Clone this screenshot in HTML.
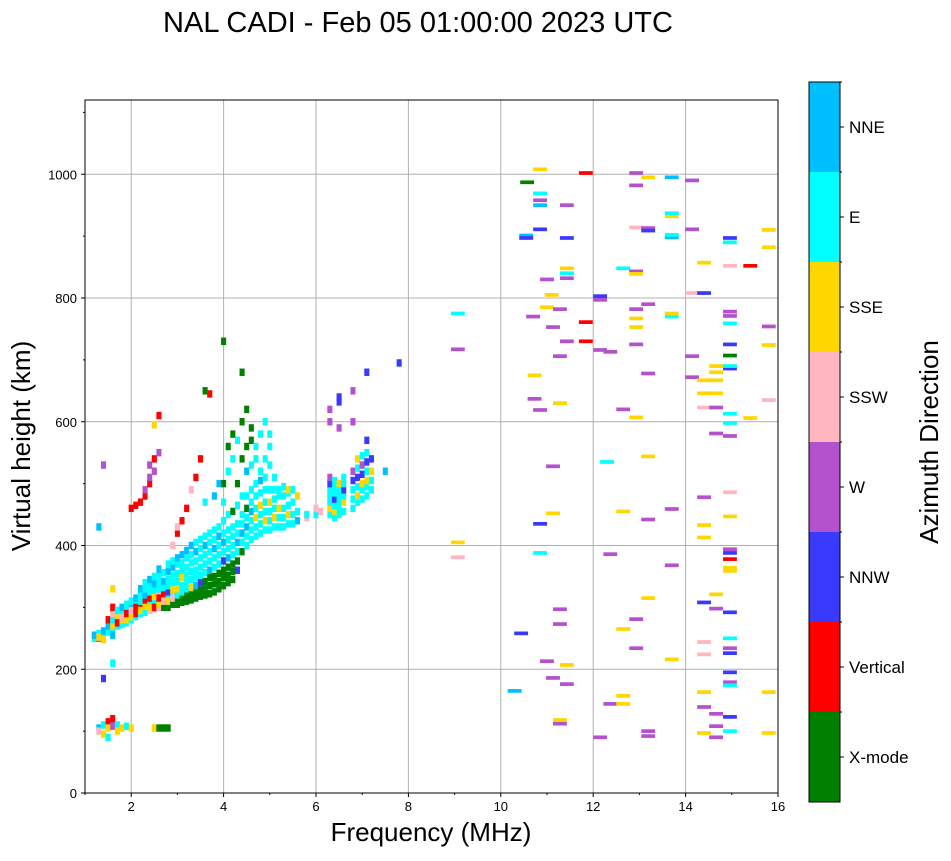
<!DOCTYPE html>
<html><head><meta charset="utf-8"><style>
body{margin:0;background:#fff;font-family:"Liberation Sans",sans-serif;}
svg text{font-family:"Liberation Sans",sans-serif;}
</style></head><body>
<svg id="chart" width="951" height="856" xmlns="http://www.w3.org/2000/svg">
<text x="418" y="32" font-size="29" text-anchor="middle">NAL CADI - Feb 05 01:00:00 2023 UTC</text>
<g id="grid"></g>
<g id="cells"></g>
<rect x="85" y="100" width="693" height="693" fill="none" stroke="#000" stroke-width="1"/>
<g id="axes"></g>
<text x="431" y="841" font-size="26" text-anchor="middle">Frequency (MHz)</text>
<text transform="translate(30,446) rotate(-90)" font-size="26" text-anchor="middle">Virtual height (km)</text>
<g id="cbar"></g>
<text transform="translate(938,442) rotate(-90)" font-size="26" text-anchor="middle">Azimuth Direction</text>
</svg>
<script>
const dirLabels=["X-mode","Vertical","NNW","W","SSW","SSE","E","NNE"];
const dirColors=["#008000","#ff0000","#3a3aff","#b452cd","#ffb6c1","#ffd700","#00ffff","#00bfff"];
const xTicks=[2,4,6,8,10,12,14,16];
const yTicks=[0,200,400,600,800,1000];
const freqs=[];const heights=[];const dirs=[];
const lowCols=[
[1.2,"250c 255s"],[1.3,"250o 258c 252y 105s 100p 430s"],[1.4,"255c 262s 248y 110c 95y 530o 185b"],
[1.5,"265y 260c 270s 280r 115r 105y 90c"],[1.6,"262c 270y 280c 290p 300r 255s 120r 108o 330y 210c"],
[1.7,"270c 278s 285y 295c 275r 110c 100y"],[1.8,"272c 280y 290c 300s 283p 105y"],
[1.9,"275c 285s 295c 305c 280y 290r 108c"],[2.0,"280c 290c 300s 310c 285y 295p 460r 105y"],
[2.1,"285c 295y 305c 315s 290r 300r 465r"],[2.2,"290c 300r 310c 320c 330s 295y 470r"],
[2.3,"292c 302y 312r 320s 330c 340c 480r 490o"],[2.4,"295p 305c 315r 325c 335c 345s 300y 500r 510o 530o"],
[2.5,"298p 308c 318y 328c 338s 350c 300r 520o 540r 595y 105y"],[2.6,"300p 310c 320p 330c 340c 352c 362s 305y 315r 550o 610r 105g"],
[2.7,"303c 313y 322r 332c 342s 356c 300g 310p 105g"],[2.8,"305g 315c 325b 335c 345c 358s 370c 300g 310y 105g"],
[2.9,"308g 318c 328y 340c 352c 365s 375c 305g 315p 400p"],[3.0,"305g 312g 320c 330y 342c 355c 370c 380s 420r 430p"],
[3.1,"308g 316g 325c 335c 348y 360c 372c 385s 440r"],[3.2,"310g 320g 330c 340c 352c 365c 380c 392s 460r"],
[3.3,"312g 322g 332y 345c 358c 372c 385c 400s 490p"],[3.4,"315g 325g 335s 348c 360c 375c 390s 405c 510r"],
[3.5,"318g 328g 340b 352c 365c 380c 395c 410c 540r"],[3.6,"320g 330g 342g 356c 370c 385c 400s 415c 470c 650g"],
[3.7,"322g 335g 348g 360s 375c 390c 405c 420c 645r"],[3.8,"325g 338g 350g 365c 380c 395s 410c 425c 480s"],
[3.9,"330g 342g 355g 370c 385c 400c 415s 430c 500s"],[4.0,"335g 348g 360g 375b 390c 405s 420c 440c 470c 500g 730g"],
[4.1,"340g 352g 365g 380s 395c 410c 425c 450c 520c 560g"],[4.2,"345g 358g 370g 385c 400c 415c 430c 455g 540c 580g"],
[4.3,"360b 375g 390c 405s 420c 435c 465c 500g 570c"],[4.4,"390g 405c 420s 435c 450c 480c 540g 600g 680g"],
[4.5,"400c 415c 430s 445c 460g 480c 520s 560g 620g"],[4.6,"410c 425c 440c 455s 470c 490c 530c 570g 590g"],
[4.7,"415c 430c 445y 460c 480c 500c 540c 560c"],[4.8,"420c 435c 450c 465y 485c 505s 520c 580c"],
[4.9,"425c 440y 455c 470c 490c 510c 540c 600c"],[5.0,"425c 440c 455c 470y 490c 530c 560c 580c"],
[5.1,"430c 445y 460c 475c 490c 510c"],[5.2,"430c 445c 460y 480c 490c"],[5.3,"430c 445c 460c 480c 495c"],
[5.4,"435c 450y 465c 485c 490y"],[5.5,"435c 450c 470c 490c"],[5.6,"440s 455c 480y"],[5.8,"445p 450c"],
[6.0,"450c 460p"],[6.1,"455p"],[6.3,"450c 460y 470c 480c 490c 500b 510o 600o 620o"],
[6.4,"445c 455y 465c 475b 485c 495c 505c"],[6.5,"450c 460c 470c 480c 490c 500y 640b 632b 590o"],
[6.6,"455c 470y 480c 490b 500c 510c"],[6.8,"460c 475c 490c 505b 520o 600o 650o"],
[6.9,"470c 480y 495c 510b 525c 540y"],[7.0,"475c 490c 500y 515b 530o 545c"],
[7.1,"480c 495c 505y 520c 535b 550c 570b 680b"],[7.2,"490c 505c 520y 540b"],[7.5,"520s"],[7.8,"695b"]];
const codeMap={g:0,r:1,b:2,o:3,p:4,y:5,c:6,s:7};
lowCols.forEach(([f,s])=>s.split(" ").forEach(t=>{freqs.push(f);heights.push(+t.slice(0,-1));dirs.push(codeMap[t.slice(-1)]);}));
const hiFreqs=[10.57,10.85,10.85,10.85,10.85,10.55,10.55,10.85,11.84,11.43,11.43,11.43,11.43,11.43,11.0,11.1,11.0,11.28,10.7,11.13,11.84,11.84,12.15,12.15,11.43,11.28,10.73,10.73,10.85,11.28,12.15,12.37,12.93,12.93,13.19,12.93,13.19,13.19,13.7,13.7,13.7,13.7,13.7,14.14,14.14,12.65,12.93,12.93,12.93,12.93,12.93,13.19,12.93,13.19,12.65,12.93,12.3,13.19,13.7,13.7,14.14,14.4,14.4,14.14,14.14,14.4,14.66,14.66,14.66,14.4,14.66,14.4,14.66,14.96,14.96,14.96,15.4,14.96,14.96,14.96,14.96,14.96,14.96,14.96,14.96,14.96,14.96,15.4,15.8,15.8,15.8,15.8,15.8,14.66,14.4,14.4,14.4,14.96,14.96,14.96,14.96,14.96,14.96,14.96,14.66,14.4,13.7,13.7,13.19,12.65,12.37,10.85,10.85,11.13,11.13,9.07,9.07,9.07,9.07,13.19,12.93,11.28,11.28,10.44,12.65,12.93,14.96,14.66,14.4,14.96,14.96,14.96,14.4,13.7,14.96,14.96,14.96,15.8,10.3,11.0,11.13,11.43,11.43,11.28,11.28,12.37,12.65,12.65,12.15,13.19,13.19,14.4,14.4,14.66,14.66,14.4,14.66,14.96,14.96,15.8];
const hiHeights=[987,1008,969,958,950,901,897,911,1002,950,897,848,832,840,830,805,785,782,770,753,761,730,803,797,730,706,675,637,619,630,716,713,982,1002,995,914,913,909,995,932,937,898,902,990,911,848,843,839,782,767,753,790,725,678,620,607,535,544,770,775,808,808,857,706,672,667,680,690,667,646,646,623,623,897,890,852,852,778,771,759,725,707,686,690,613,598,577,606,910,882,754,724,635,581,478,433,413,486,447,394,388,378,359,364,321,308,368,459,442,455,386,388,435,452,528,775,717,405,381,315,281,297,273,258,265,234,292,298,244,250,234,226,224,216,195,179,174,163,165,213,186,207,176,118,112,144,157,144,90,100,92,163,139,128,108,97,90,100,123,97];
const hiDirs=[0,5,6,3,7,7,2,2,1,3,2,5,3,6,3,5,5,3,3,3,1,1,2,3,3,3,5,3,3,5,3,3,3,3,5,4,3,2,7,5,6,7,6,3,3,6,3,5,3,5,5,3,3,3,3,5,6,5,6,5,4,2,5,3,3,5,5,5,5,5,5,4,3,2,6,4,1,3,3,6,2,0,2,6,6,6,3,5,5,5,3,5,4,3,3,5,5,4,5,3,2,1,5,5,5,2,3,3,3,5,3,6,2,5,3,6,3,5,4,5,3,3,3,2,5,3,2,3,4,6,3,2,4,5,2,3,6,5,7,3,3,5,3,5,3,3,5,5,3,3,3,5,3,3,3,5,3,6,2,5];
hiFreqs.forEach((f,i)=>{freqs.push(f);heights.push(hiHeights[i]);dirs.push(hiDirs[i]);});

const NS="http://www.w3.org/2000/svg";
const X0=85,X1=778,Y0=793,Y1=100,FMIN=1,FMAX=16,HMAX=1120;
const xs=f=>X0+(f-FMIN)*(X1-X0)/(FMAX-FMIN);
const ys=h=>Y0-h*(Y0-Y1)/HMAX;
function mk(tag,attrs,parent){const e=document.createElementNS(NS,tag);for(const k in attrs)e.setAttribute(k,attrs[k]);parent.appendChild(e);return e;}
const grid=document.getElementById('grid'),axes=document.getElementById('axes'),cells=document.getElementById('cells'),cbar=document.getElementById('cbar');
xTicks.forEach(t=>{const x=xs(t);
 if(t<FMAX){const l=mk('line',{x1:x,x2:x,y1:Y1,y2:Y0,stroke:'#b0b0b0','stroke-width':1},grid);}
 const tk=mk('line',{x1:x,x2:x,y1:Y0,y2:Y0+4,stroke:'#000'},axes);
 const tx=mk('text',{x:x,y:Y0+18,'font-size':13,'text-anchor':'middle'},axes);tx.textContent=t;});
for(let f=1;f<=16;f+=1){if(xTicks.includes(f))continue;const x=xs(f);const m=mk('line',{x1:x,x2:x,y1:Y0,y2:Y0+2,stroke:'#000'},axes);}
yTicks.forEach(t=>{const y=ys(t);
 if(t>0){const l=mk('line',{x1:X0,x2:X1,y1:y,y2:y,stroke:'#b0b0b0','stroke-width':1},grid);}
 const tk=mk('line',{x1:X0-4,x2:X0,y1:y,y2:y,stroke:'#000'},axes);
 const tx=mk('text',{x:X0-8,y:y+5,'font-size':13,'text-anchor':'end'},axes);tx.textContent=t;});
for(let h=100;h<=1100;h+=200){const y=ys(h);const m=mk('line',{x1:X0-2,x2:X0,y1:y,y2:y,stroke:'#000'},axes);}
freqs.forEach((f,i)=>{const hi=f>=8.5;const w=(hi?0.3:0.11)*(X1-X0)/15;const hh=(hi?6:12)*(Y0-Y1)/HMAX;
 const r=mk('rect',{x:xs(f)-w/2,y:ys(heights[i])-hh/2,width:w,height:hh,fill:dirColors[dirs[i]]},cells);
 });
const CB_X=809,CB_W=31,CB_T=82,CB_B=802,seg=(CB_B-CB_T)/dirLabels.length;
dirLabels.forEach((lab,i)=>{const y=CB_B-(i+1)*seg;
 const r=mk('rect',{x:CB_X,y:y,width:CB_W,height:seg,fill:dirColors[i]},cbar);
 const tk=mk('line',{x1:CB_X+CB_W,x2:CB_X+CB_W+4,y1:y+seg/2,y2:y+seg/2,stroke:'#000'},cbar);
 const tx=mk('text',{x:CB_X+CB_W+9,y:y+seg/2+6,'font-size':17},cbar);tx.textContent=lab;
 const mt=mk('line',{x1:CB_X+CB_W,x2:CB_X+CB_W+2,y1:y,y2:y,stroke:'#000'},cbar);});
const fr=mk('rect',{x:CB_X,y:CB_T,width:CB_W,height:CB_B-CB_T,fill:'none',stroke:'#000'},cbar);
</script>
</body></html>
